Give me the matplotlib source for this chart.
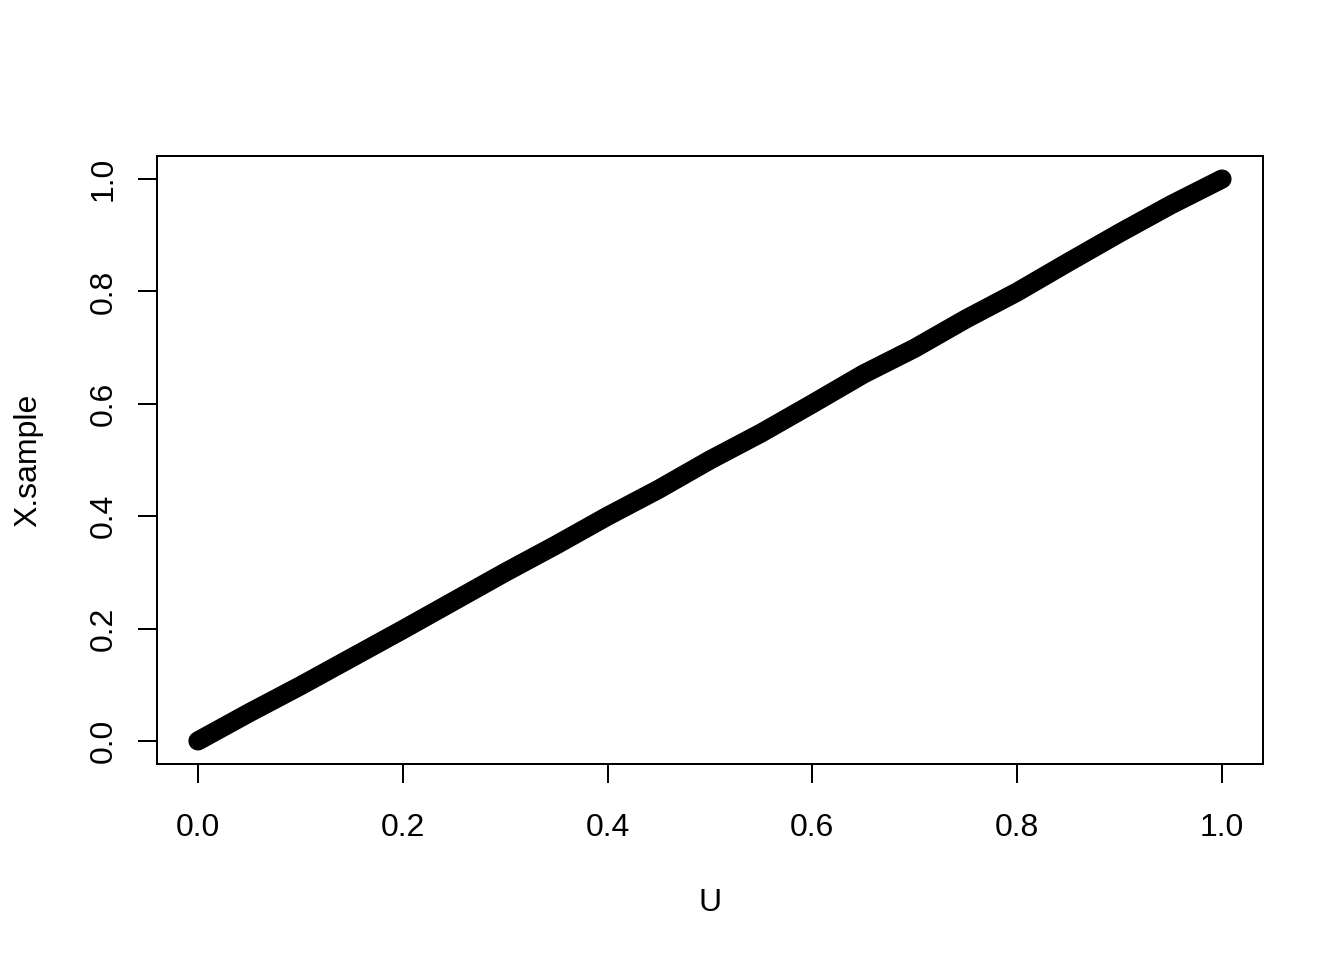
import matplotlib
matplotlib.use("Agg")
import matplotlib.pyplot as plt

# values (sorted sample against U)
u_vals = [0.0, 0.05, 0.10, 0.15, 0.20, 0.25, 0.30, 0.35, 0.40, 0.45, 0.50,
          0.55, 0.60, 0.65, 0.70, 0.75, 0.80, 0.85, 0.90, 0.95, 1.0]
x_sample = [0.0, 0.050, 0.098, 0.148, 0.198, 0.249, 0.300, 0.349, 0.400, 0.448, 0.500,
            0.548, 0.600, 0.653, 0.699, 0.751, 0.799, 0.852, 0.904, 0.954, 1.0]
ticks = [0.0, 0.2, 0.4, 0.6, 0.8, 1.0]
tick_labels = ["0.0", "0.2", "0.4", "0.6", "0.8", "1.0"]

plt.rcParams['font.family'] = ['Liberation Sans', 'DejaVu Sans']
plt.rcParams['font.size'] = 12

fig = plt.figure(figsize=(7, 5), dpi=192)
ax = fig.add_axes([0.1168, 0.2042, 0.8229, 0.6333])

ax.plot(u_vals, x_sample, color='black', lw=7.2,
        solid_capstyle='round', solid_joinstyle='round')

ax.set_xlim(-0.04, 1.04)
ax.set_ylim(-0.041, 1.041)
ax.set_xticks(ticks)
ax.set_xticklabels(tick_labels)
ax.set_yticks(ticks)
ax.set_yticklabels(tick_labels, rotation=90, va='center')
ax.tick_params(direction='out', length=7.2, width=0.75)
ax.tick_params(axis='x', pad=11)
ax.tick_params(axis='y', pad=7)
for s in ax.spines.values():
    s.set_linewidth(0.75)

ax.set_xlabel("U", labelpad=17)
ax.set_ylabel("X.sample", labelpad=17)

fig.savefig("out.png", dpi=192)
